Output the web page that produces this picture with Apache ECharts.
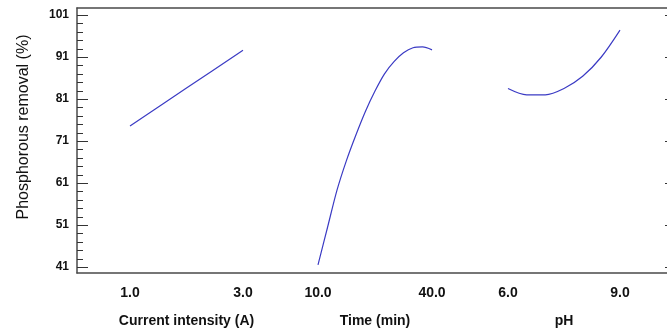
<!DOCTYPE html>
<html>
<head>
<meta charset="utf-8">
<script src="https://cdn.jsdelivr.net/npm/echarts@6/dist/echarts.min.js"></script>
<style>
  html, body { margin: 0; padding: 0; background: #fff; }
  #chart { width: 667px; height: 333px; }
</style>
</head>
<body>
<div id="chart"></div>
<script>
const yTicks = [41, 51, 61, 71, 81, 91, 101];

const currentTicks = [1.0, 3.0];
const currentX = [1.0, 2.0, 3.0];
const currentY = [74.6, 83.6, 92.6];

const timeTicks = [10.0, 40.0];
const timeX = [10.0, 12.5, 15.0, 17.5, 20.0, 22.5, 25.0, 27.5, 30.0, 32.5, 35.0, 37.5, 40.0];
const timeY = [41.5, 50.4, 59.3, 66.4, 72.5, 78.1, 82.9, 87.0, 89.9, 92.0, 93.2, 93.4, 92.7];

const phTicks = [6.0, 9.0];
const phX = [6.0, 6.5, 7.0, 7.5, 8.0, 8.5, 9.0];
const phY = [83.5, 82.0, 82.0, 83.5, 86.4, 91.0, 97.4];

const minorTicks = [];
for (let i = 0; i < yTicks.length - 1; i++) {
  for (let k = 1; k < 5; k++) minorTicks.push(yTicks[i] + k * 2);
}

const pair = (xs, ys) => xs.map((x, i) => [x, ys[i]]);

const font = "Liberation Sans, Arial, sans-serif";
const lineColor = "#3b3bc4";
const tickColor = "#333";
const frameColor = "#4a4a4a";
const gridTop = 15;
const gridBottom = 66;

const panels = [
  { name: "Current intensity (A)", ticks: currentTicks, x: currentX, y: currentY, left: 130, width: 113 },
  { name: "Time (min)", ticks: timeTicks, x: timeX, y: timeY, left: 318, width: 114 },
  { name: "pH", ticks: phTicks, x: phX, y: phY, left: 508, width: 112 },
];

const grids = [
  // 0: frame (drawn with axis lines)
  { left: 77, top: 8, right: -9, bottom: 60 },
  // 1: left labels, left ticks drawn by a custom series
  { left: 77, width: 30, top: gridTop, bottom: gridBottom },
  // 2: right major ticks
  { left: 646, width: 30, top: gridTop, bottom: gridBottom },
  // 3: y axis title
  { left: 20, width: 30, top: 0, bottom: 79 },
];
const hidden = () => ({ type: "value", show: false, min: 0, max: 1, axisLine: { show: false, onZero: false } });
const frameAxis = (gi, position) => ({
  gridIndex: gi, type: "value", position, min: 0, max: 1, z: 1,
  axisLine: { show: true, onZero: false, lineStyle: { color: frameColor, width: 1.5 } },
  axisTick: { show: false }, axisLabel: { show: false }, splitLine: { show: false },
});
const xAxes = [frameAxis(0, "bottom"), frameAxis(0, "top")];
for (let i = 1; i < grids.length; i++) xAxes.push(Object.assign(hidden(), { gridIndex: i }));

const yAxes = [
  frameAxis(0, "left"),
  frameAxis(0, "right"),
  {
    gridIndex: 1, type: "value", position: "left", min: 41, max: 101,
    axisLine: { show: false, onZero: false }, splitLine: { show: false },
    axisTick: { show: false, customValues: yTicks },
    axisLabel: { show: true, customValues: yTicks, margin: 8, fontFamily: font, fontSize: 12, fontWeight: "bold", color: "#111" },
  },
  {
    gridIndex: 2, type: "value", position: "right", min: 41, max: 101,
    axisLine: { show: false, onZero: false }, splitLine: { show: false }, axisLabel: { show: false },
    axisTick: { show: true, inside: true, length: 11, customValues: yTicks, lineStyle: { color: tickColor } },
  },
  {
    gridIndex: 3, type: "value", position: "right", min: 0, max: 1,
    name: "Phosphorous removal (%)", nameLocation: "middle", nameGap: -34, nameRotate: 90,
    nameTextStyle: { fontFamily: font, fontSize: 16, color: "#111" },
    axisLine: { show: false, onZero: false }, splitLine: { show: false },
    axisTick: { show: false }, axisLabel: { show: false },
  },
];

// left-side tick marks (major 11px, minor 6px), placed through the y scale of grid 1
const tickData = yTicks.map((v) => [0, v, 11]).concat(minorTicks.map((v) => [0, v, 6]));
const series = [{
  type: "custom",
  xAxisIndex: 2,
  yAxisIndex: 2,
  silent: true,
  encode: { x: 0, y: 1 },
  data: tickData,
  renderItem: (params, api) => {
    const p = api.coord([api.value(0), api.value(1)]);
    const y = Math.round(p[1]) + 0.5;
    return {
      type: "line",
      shape: { x1: p[0], y1: y, x2: p[0] + api.value(2), y2: y },
      style: { stroke: tickColor, lineWidth: 1 },
    };
  },
}];

panels.forEach((p) => {
  const gi = grids.length;
  grids.push({ left: p.left, width: p.width, top: gridTop, bottom: gridBottom });
  xAxes.push({
    gridIndex: gi, type: "value", min: p.ticks[0], max: p.ticks[p.ticks.length - 1],
    name: p.name, nameLocation: "middle", nameGap: 47,
    nameTextStyle: { fontFamily: font, fontSize: 14, fontWeight: "bold", color: "#111" },
    axisLine: { show: false, onZero: false }, axisTick: { show: false }, splitLine: { show: false },
    axisLabel: {
      customValues: p.ticks, margin: 19, fontFamily: font, fontSize: 14, fontWeight: "bold", color: "#111",
      formatter: (v) => Number(v).toFixed(1),
    },
  });
  yAxes.push({ gridIndex: gi, type: "value", show: false, min: 41, max: 101, axisLine: { show: false, onZero: false } });
  series.push({
    type: "line",
    xAxisIndex: xAxes.length - 1,
    yAxisIndex: yAxes.length - 1,
    data: pair(p.x, p.y),
    smooth: 0.3,
    showSymbol: false,
    silent: true,
    lineStyle: { color: lineColor, width: 1.2 },
  });
});

grids.forEach((g) => { g.outerBoundsMode = "none"; });

const chart = echarts.init(document.getElementById("chart"));
chart.setOption({
  animation: false,
  backgroundColor: "#fff",
  grid: grids,
  xAxis: xAxes,
  yAxis: yAxes,
  series,
});
</script>
</body>
</html>
